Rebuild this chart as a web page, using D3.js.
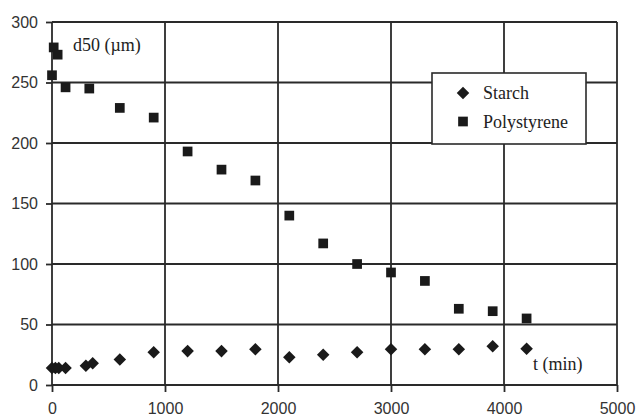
<!DOCTYPE html>
<html>
<head>
<meta charset="utf-8">
<script src="https://cdn.jsdelivr.net/npm/d3@7"></script>
<style>
  body { margin: 0; background: #fff; }
  svg { display: block; }
</style>
</head>
<body>
<div id="chart"></div>
<script>
// d50 particle size vs time, starch vs polystyrene

const tStarch = [0, 30, 60, 120, 300, 360, 600, 900, 1200, 1500, 1800, 2100, 2400, 2700, 3000, 3300, 3600, 3900, 4200];
const starch = [14, 14, 14, 14, 16, 18, 21, 27, 28, 28, 29.5, 23, 25, 27, 29.5, 29.5, 29.5, 32, 30];

const tPoly = [0, 15, 50, 120, 330, 600, 900, 1200, 1500, 1800, 2100, 2400, 2700, 3000, 3300, 3600, 3900, 4200];
const poly = [256, 279, 273, 246, 245, 229, 221, 193, 178, 169, 140, 117, 100, 93, 86, 63, 61, 55];

const xTicks = [0, 1000, 2000, 3000, 4000, 5000];
const yTicks = [0, 50, 100, 150, 200, 250, 300];
const legendItems = ['Starch', 'Polystyrene'];

const width = 639, height = 417;
const ink = '#1a1a1a';
const gridColor = '#2a2a2a';
const serif = '"Liberation Serif", "DejaVu Serif", serif';
const sans = '"Liberation Sans", Arial, sans-serif';

const svg = d3.select('#chart').append('svg')
    .attr('width', width)
    .attr('height', height);

const x = d3.scaleLinear().domain([0, 5000]).range([52, 617]);
const y = d3.scaleLinear().domain([0, 300]).range([385, 22]);

// Grid
const grid = svg.append('g');
grid.selectAll('line.h')
    .data(yTicks)
    .join('line')
    .attr('class', 'h')
    .attr('x1', x(0)).attr('x2', x(5000))
    .attr('y1', d => y(d)).attr('y2', d => y(d))
    .attr('stroke', gridColor)
    .attr('stroke-width', 1.8);
grid.selectAll('line.v')
    .data(xTicks)
    .join('line')
    .attr('class', 'v')
    .attr('y1', y(0)).attr('y2', y(300))
    .attr('x1', d => x(d)).attr('x2', d => x(d))
    .attr('stroke', gridColor)
    .attr('stroke-width', 1.8);

// Axes (outer ticks + labels)
const yAxis = svg.append('g')
    .attr('transform', `translate(${x(0)},0)`)
    .call(d3.axisLeft(y).tickValues(yTicks).tickFormat(d3.format('d'))
        .tickSize(6).tickPadding(8).tickSizeOuter(0));
const xAxis = svg.append('g')
    .attr('transform', `translate(0,${y(0)})`)
    .call(d3.axisBottom(x).tickValues(xTicks).tickFormat(d3.format('d'))
        .tickSize(7).tickPadding(11).tickSizeOuter(0));

for (const ax of [xAxis, yAxis]) {
    ax.select('.domain').remove();
    ax.selectAll('.tick line').attr('stroke', gridColor).attr('stroke-width', 1.8);
    ax.selectAll('.tick text')
        .attr('fill', '#333')
        .style('font-family', sans)
        .style('font-size', '16px');
}

// Markers
const diamond = d3.symbol().type(d3.symbolDiamond2).size(100);
const square = d3.symbol().type(d3.symbolSquare2).size(120);

svg.append('g').selectAll('path')
    .data(tStarch.map((t, i) => [t, starch[i]]))
    .join('path')
    .attr('d', diamond)
    .attr('transform', d => `translate(${x(d[0])},${y(d[1])})`)
    .attr('fill', ink);

svg.append('g').selectAll('path')
    .data(tPoly.map((t, i) => [t, poly[i]]))
    .join('path')
    .attr('d', square)
    .attr('transform', d => `translate(${x(d[0])},${y(d[1])})`)
    .attr('fill', ink);

// Axis titles inside the plot
svg.append('text')
    .attr('x', 73).attr('y', 51)
    .attr('fill', '#222')
    .style('font-family', serif)
    .style('font-size', '18px')
    .text('d50 (\u00b5m)');

svg.append('text')
    .attr('x', 533).attr('y', 370)
    .attr('fill', '#222')
    .style('font-family', serif)
    .style('font-size', '18px')
    .text('t (min)');

// Legend
const legend = svg.append('g').attr('transform', 'translate(432,73)');
legend.append('rect')
    .attr('width', 154).attr('height', 71)
    .attr('fill', '#fff')
    .attr('stroke', gridColor)
    .attr('stroke-width', 1.6);

const li = legend.selectAll('g.item')
    .data(legendItems)
    .join('g')
    .attr('class', 'item')
    .attr('transform', (d, i) => `translate(0,${20 + i * 28.5})`);
li.append('path')
    .attr('d', (d, i) => i === 0 ? diamond() : square())
    .attr('transform', 'translate(31,0)')
    .attr('fill', ink);
li.append('text')
    .attr('x', 51).attr('y', 6)
    .attr('fill', '#222')
    .style('font-family', serif)
    .style('font-size', '18px')
    .text(d => d);
</script>
</body>
</html>
